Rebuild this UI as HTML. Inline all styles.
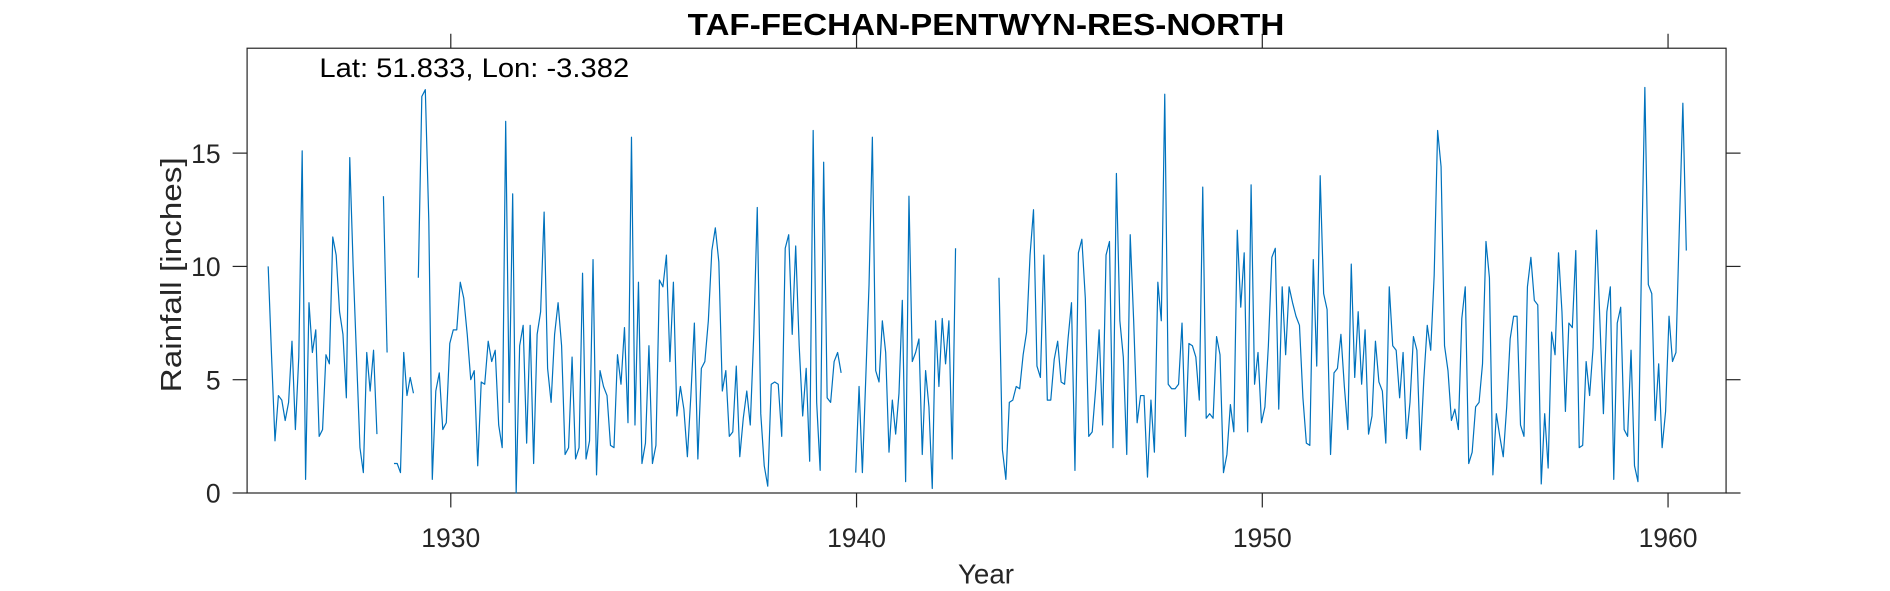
<!DOCTYPE html>
<html><head><meta charset="utf-8"><style>
html,body{margin:0;padding:0;background:#fff;}
svg{display:block;font-family:"Liberation Sans",Arial,sans-serif;}
</style></head><body>
<svg id="chart" width="1890" height="591" viewBox="0 0 1568 490.3" xmlns="http://www.w3.org/2000/svg">
<rect width="1568" height="490.3" fill="#fff"/>
<text x="818" y="29" text-anchor="middle" font-size="25" font-weight="bold" fill="#000" textLength="495" lengthAdjust="spacingAndGlyphs">TAF-FECHAN-PENTWYN-RES-NORTH</text>
<rect x="205" y="40" width="1227" height="369" fill="#fff" stroke="#262626" stroke-width="1"/>
<text x="265" y="64" font-size="22" fill="#000" textLength="257" lengthAdjust="spacingAndGlyphs">Lat: 51.833, Lon: -3.382</text>
<g id="xticks"></g><g id="yticks"></g>
<text transform="translate(150,228) rotate(-90)" text-anchor="middle" font-size="24" fill="#262626" textLength="195" lengthAdjust="spacingAndGlyphs">Rainfall [inches]</text>
<text x="818" y="484" text-anchor="middle" font-size="23" fill="#262626">Year</text>
<g id="series"></g>
</svg>
<script>
const xTicks=[1930,1940,1950,1960];
const yTicks=[0,5,10,15];
const segStart=[1925.5,1928.34,1928.60,1929.20,1939.98,1943.51];
const segEnd=[1928.18,1928.43,1929.08,1939.62,1942.44,1960.45];
const seg1=[10,6,2.3,4.3,4.1,3.2,4.0,6.7,2.8,6,15.1,0.6,8.4,6.2,7.2,2.5,2.8,6.1,5.7,11.3,10.5,8,7,4.2,14.8,10,6,2,0.9,6.2,4.5,6.3,2.6];
const seg2=[13.1,6.2];
const seg3=[1.3,1.3,0.9,6.2,4.3,5.1,4.4];
const seg4=[9.5,17.5,17.8,12,0.6,4.5,5.3,2.8,3.1,6.6,7.2,7.2,9.3,8.6,7,5,5.4,1.2,4.9,4.8,6.7,5.8,6.3,3,2,16.4,4,13.2,0,6.5,7.4,2.2,7.4,1.3,7,8,12.4,5.5,4,7,8.4,6.5,1.7,2.0,6.0,1.5,2,9.7,1.5,2.3,10.3,0.8,5.4,4.7,4.3,2.1,2.0,6.1,4.8,7.3,3.1,15.7,3,9.3,1.3,2.2,6.5,1.3,2.1,9.4,9.1,10.5,5.8,9.3,3.4,4.7,3.7,1.6,4.3,7.5,1.5,5.5,5.8,7.6,10.7,11.7,10.2,4.5,5.4,2.5,2.7,5.6,1.6,3.3,4.5,3.0,7.0,12.6,3.5,1.2,0.3,4.8,4.9,4.8,2.5,10.8,11.4,7.0,10.9,6.5,3.4,5.5,1.4,16.0,4.0,1.0,14.6,4.2,4.0,5.8,6.2,5.3];
const seg5=[0.9,4.7,0.9,5.0,9.2,15.7,5.4,4.9,7.6,6.2,1.8,4.1,2.6,4.4,8.5,0.5,13.1,5.8,6.2,6.8,1.7,5.4,3.8,0.2,7.6,4.7,7.7,5.7,7.6,1.5,10.8];
const seg6=[9.5,1.9,0.6,4.0,4.1,4.7,4.6,6.1,7.1,10.5,12.5,5.6,5.1,10.5,4.1,4.1,5.9,6.7,4.9,4.8,6.8,8.4,1.0,10.6,11.2,8.6,2.5,2.7,4.6,7.2,3.0,10.5,11.1,2.0,14.1,7.6,6.0,1.7,11.4,7.6,3.1,4.3,4.3,0.7,4.1,1.8,9.3,7.6,17.6,4.8,4.6,4.6,4.8,7.5,2.5,6.6,6.5,6.0,4.1,13.5,3.3,3.5,3.3,6.9,6.1,0.9,1.7,3.9,2.7,11.6,8.2,10.6,2.7,13.6,4.8,6.2,3.1,3.8,6.5,10.4,10.8,3.7,9.1,6.1,9.1,8.4,7.8,7.4,4.2,2.2,2.1,10.3,5.6,14.0,8.8,8.1,1.7,5.3,5.5,7.0,4.7,2.8,10.1,5.1,8.0,4.8,7.2,2.6,3.4,6.7,4.9,4.5,2.2,9.1,6.5,6.3,4.2,6.2,2.4,4.0,6.9,6.3,1.9,5.0,7.4,6.3,9.6,16.0,14.4,6.5,5.4,3.2,3.7,2.8,7.7,9.1,1.3,1.8,3.8,4.0,5.7,11.1,9.5,0.8,3.5,2.5,1.6,3.8,6.8,7.8,7.8,3.0,2.5,9.1,10.4,8.5,8.3,0.4,3.5,1.1,7.1,6.1,10.6,8.0,3.6,7.5,7.3,10.7,2.0,2.1,5.8,4.3,6.4,11.6,7.5,3.5,8.0,9.1,0.6,7.5,8.2,2.8,2.5,6.3,1.2,0.5,9.9,17.9,9.2,8.8,3.2,5.7,2.0,3.6,7.8,5.8,6.2,11.8,17.2,10.7];
const segments=[seg1,seg2,seg3,seg4,seg5,seg6];

const X0=205,X1=1432,Y0=409,Y1=40,XMIN=1924.98,XMAX=1961.43,YMIN=0,YMAX=19.63,TL=12;
function sx(v){return X0+(v-XMIN)/(XMAX-XMIN)*(X1-X0);}
function sy(v){return Y0-(v-YMIN)/(YMAX-YMIN)*(Y0-Y1);}
const NS="http://www.w3.org/2000/svg";
function mk(tag,attrs,parent){const e=document.createElementNS(NS,tag);for(const k in attrs)e.setAttribute(k,attrs[k]);parent.appendChild(e);return e;}
const xg=document.getElementById('xticks'),yg=document.getElementById('yticks'),sg=document.getElementById('series');
xTicks.forEach(t=>{const x=sx(t);
 const a=mk('line',{x1:x,x2:x,y1:Y0,y2:Y0+TL,stroke:'#262626'},xg);
 
 
 const b=mk('line',{x1:x,x2:x,y1:Y1,y2:Y1-TL,stroke:'#262626'},xg);
 
 
 const l=mk('text',{x:x,y:454,'text-anchor':'middle','font-size':22,fill:'#262626'},xg);l.textContent=t;
 
 
});
yTicks.forEach(t=>{const y=sy(t);
 const a=mk('line',{x1:X0,x2:X0-TL,y1:y,y2:y,stroke:'#262626'},yg);
 
 
 const b=mk('line',{x1:X1,x2:X1+TL,y1:y,y2:y,stroke:'#262626'},yg);
 
 
 const l=mk('text',{x:183,y:y+8,'text-anchor':'end','font-size':22,fill:'#262626'},yg);l.textContent=t;
 
 
});
segments.forEach((vals,i)=>{
 const n=vals.length,s=segStart[i],e=segEnd[i];
 const pts=vals.map((v,j)=>{const yr=n>1?s+(e-s)*j/(n-1):s;return sx(yr).toFixed(2)+','+sy(v).toFixed(2);}).join(' ');
 const p=mk('polyline',{points:pts,fill:'none',stroke:'#0072BD','stroke-width':1,'stroke-linejoin':'round'},sg);
 
 
});
</script>
</body></html>
